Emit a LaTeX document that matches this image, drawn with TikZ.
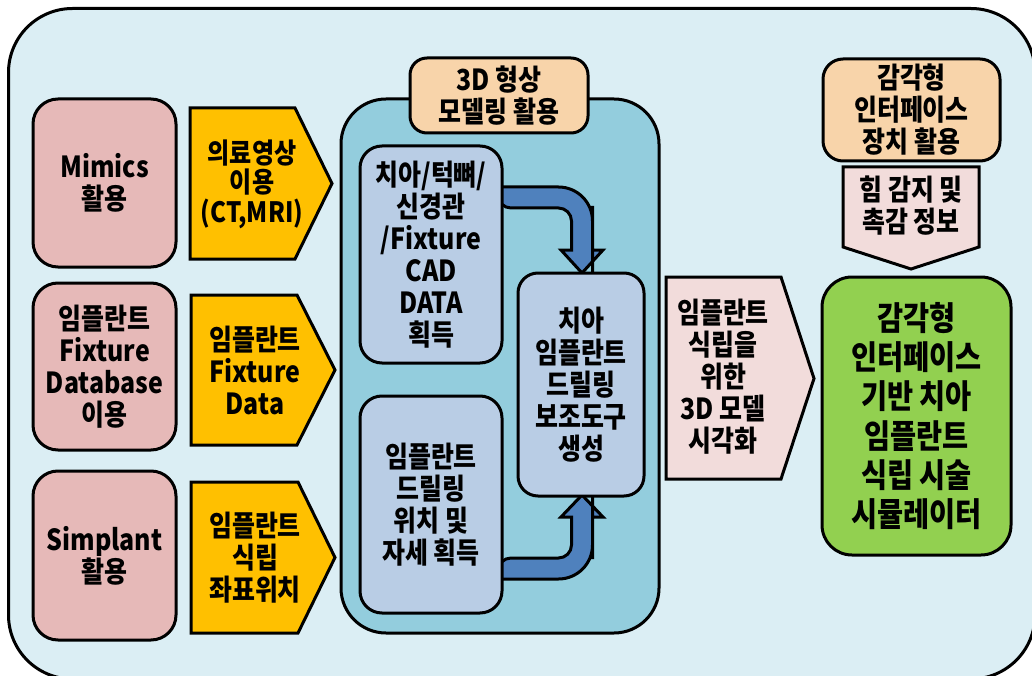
\documentclass[tikz,border=0pt]{standalone}
\usepackage{fontspec}
\IfFontExistsTF{Noto Sans CJK KR Black}
  {\setmainfont{Noto Sans CJK KR Black}[FakeStretch=0.86]}
  {\setmainfont{Noto Sans CJK KR Bold}[FakeStretch=0.88]}
\usetikzlibrary{calc}
\definecolor{bgc}{HTML}{DBEEF4}
\definecolor{pinkc}{HTML}{E6B9B8}
\definecolor{yelc}{HTML}{FFC000}
\definecolor{tealc}{HTML}{93CDDD}
\definecolor{bluec}{HTML}{B9CDE5}
\definecolor{orc}{HTML}{F8D4AA}
\definecolor{lpinkc}{HTML}{F2DCDB}
\definecolor{greenc}{HTML}{92D050}
\definecolor{arrc}{HTML}{4F81BD}
\begin{document}
\begin{tikzpicture}[x=1pt,y=-1pt,
  every node/.style={inner sep=0pt, align=center, font=\fontsize{29}{32}\selectfont},
  shp/.style={draw=black, line width=3pt},
  rbox/.style={shp, rounded corners=#1},
  poly/.style={shp, line join=miter},
  bigarrow/.style={shp, fill=arrc, line join=miter}]
\useasboundingbox (0,0) rectangle (1032,676);
% outer background
\draw[shp, fill=bgc, rounded corners=64] (8.5,8.5) rectangle (1035,679);
% left source boxes
\node[rbox=25, fill=pinkc, minimum width=143, minimum height=168] (mim) at (104.5,183) {Mimics\\활용};
\node[rbox=25, fill=pinkc, minimum width=143, minimum height=167] (fdb) at (104.5,366.5) {임플란트\\Fixture\\Database\\이용};
\node[rbox=25, fill=pinkc, minimum width=143, minimum height=169] (sim) at (104.5,555.5) {Simplant\\활용};
% yellow pentagons
\draw[poly, fill=yelc] (190,108) -- (295,108) -- (332,183.5) -- (295,259) -- (190,259) -- cycle;
\draw[poly, fill=yelc] (191,295) -- (297,295) -- (335,370) -- (297,445) -- (191,445) -- cycle;
\draw[poly, fill=yelc] (191,482) -- (298,482) -- (335,557.5) -- (298,633) -- (191,633) -- cycle;
\node[font=\fontsize{28}{29.5}\selectfont] (y1) at (252,184) {의료영상\\이용\\(CT,MRI)};
\node (y2) at (255,370) {임플란트\\Fixture\\Data};
\node (y3) at (255,558) {임플란트\\식립\\좌표위치};
% teal container
\node[rbox=45, fill=tealc, minimum width=318, minimum height=534] (cont) at (500,366) {};
\node[rbox=17, fill=orc, minimum width=178, minimum height=75] (lab3d) at (499,95.5) {3D 형상\\모델링 활용};
% curved arrows
\draw[bigarrow] (498,187) [rounded corners=34] -| (592.5,240) [sharp corners] -- (592.5,250) -- (603,250) -- (582,273) -- (561,250) -- (571.5,250) -- (571.5,240) [rounded corners=13] |- (498,208) [sharp corners] -- cycle;
\draw[bigarrow] (498,579) [rounded corners=34] -| (592.5,525) [sharp corners] -- (592.5,517) -- (603,517) -- (582,495) -- (561,517) -- (571.5,517) -- (571.5,525) [rounded corners=13] |- (498,558) [sharp corners] -- cycle;
% inner boxes
\node[rbox=22, fill=bluec, minimum width=142, minimum height=217] (b1) at (431,254.5) {치아/턱뼈/\\신경관\\/Fixture\\CAD\\DATA\\획득};
\node[rbox=22, fill=bluec, minimum width=142, minimum height=217] (b2) at (431,504.5) {임플란트\\드릴링\\위치 및\\자세 획득};
\node[rbox=20, fill=bluec, minimum width=126, minimum height=223] (b3) at (581,384.5) {치아\\임플란트\\드릴링\\보조도구\\생성};
% 3D model visualisation pentagon
\draw[poly, fill=lpinkc] (666,277) -- (781,277) -- (814,378.5) -- (781,479) -- (666,479) -- cycle;
\node (vis) at (723,377) {임플란트\\식립을\\위한\\3D 모델\\시각화};
% haptic device
\node[rbox=20, fill=orc, minimum width=177, minimum height=102] (hap) at (911.5,110) {감각형\\인터페이스\\장치 활용};
\draw[poly, fill=lpinkc] (843,167) -- (979,167) -- (979,247) -- (911,269) -- (843,247) -- cycle;
\node (force) at (911,206) {힘 감지 및\\촉감 정보};
% result
\node[rbox=30, fill=greenc, minimum width=189, minimum height=278, font=\fontsize{33}{39.2}\selectfont] (sim2) at (916.5,416) {감각형\\인터페이스\\기반 치아\\임플란트\\식립 시술\\시뮬레이터};
\end{tikzpicture}
\end{document}
